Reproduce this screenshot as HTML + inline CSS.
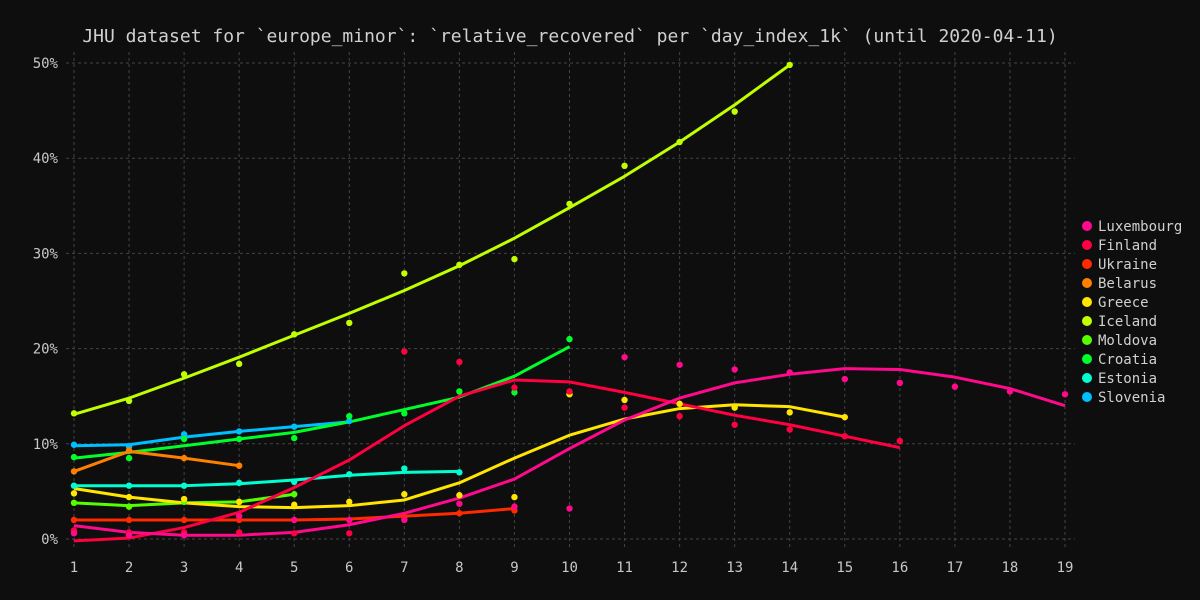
<!DOCTYPE html>
<html><head><meta charset="utf-8"><style>
body{margin:0;background:#0e0e0e;}
svg{display:block;font-family:"DejaVu Sans Mono","Liberation Mono",monospace;}
</style></head><body>
<svg id="chart" width="1200" height="600">
<rect width="1200" height="600" fill="#0e0e0e"/>
<text x="570" y="42" fill="#d0d0d0" font-size="18" text-anchor="middle">JHU dataset for `europe_minor`: `relative_recovered` per `day_index_1k` (until 2020-04-11)</text>
<g id="grid"></g><g id="lines"></g><g id="pts"></g><g id="legend"></g>
</svg>
<script>
const xTicks=[1,2,3,4,5,6,7,8,9,10,11,12,13,14,15,16,17,18,19];
const yTicks=[0,10,20,30,40,50];
const names=["Luxembourg","Finland","Ukraine","Belarus","Greece","Iceland","Moldova","Croatia","Estonia","Slovenia"];
const colors=["#ff0a8c","#ff0040","#ff2a00","#ff8000","#ffe500","#c0ff00","#55ff00","#00ff2a","#00ffd0","#00bfff"];
const luxPts=[0.6,0.4,0.4,2.4,2.0,2.0,2.0,3.7,3.4,3.2,19.1,18.3,17.8,17.5,16.8,16.4,16.0,15.5,15.2];
const luxFit=[1.4,0.7,0.4,0.4,0.7,1.5,2.7,4.3,6.3,9.5,12.5,14.8,16.4,17.3,17.9,17.8,17.0,15.8,14.0];
const finPts=[0.9,0.7,0.7,0.7,0.6,0.6,19.7,18.6,15.9,15.5,13.8,12.9,12.0,11.5,10.8,10.3];
const finFit=[-0.2,0.1,1.2,2.8,5.4,8.3,11.9,15.0,16.7,16.5,15.4,14.2,13.0,12.0,10.8,9.6];
const ukrPts=[2.0,2.0,2.0,2.0,2.0,2.0,2.3,2.7,3.0];
const ukrFit=[2.0,2.0,2.0,2.0,2.0,2.1,2.4,2.7,3.2];
const belPts=[7.1,9.3,8.5,7.7];
const belFit=[7.1,9.2,8.5,7.7];
const grePts=[4.8,4.4,4.2,3.9,3.6,3.9,4.7,4.6,4.4,15.2,14.6,14.2,13.8,13.3,12.8];
const greFit=[5.3,4.4,3.8,3.4,3.3,3.5,4.1,5.9,8.5,10.9,12.6,13.7,14.1,13.9,12.8];
const icePts=[13.2,14.5,17.3,18.4,21.5,22.7,27.9,28.8,29.4,35.2,39.2,41.7,44.9,49.8];
const iceFit=[13.1,14.8,16.9,19.1,21.4,23.7,26.1,28.7,31.6,34.8,38.1,41.7,45.6,49.8];
const molPts=[3.8,3.4,3.9,3.9,4.7];
const molFit=[3.8,3.5,3.8,3.9,4.7];
const croPts=[8.6,8.5,10.5,10.5,10.6,12.9,13.2,15.5,15.4,21.0];
const croFit=[8.5,9.1,9.8,10.5,11.2,12.3,13.6,14.9,17.1,20.2];
const estPts=[5.6,5.6,5.6,5.9,6.0,6.8,7.4,7.0];
const estFit=[5.6,5.6,5.6,5.8,6.2,6.7,7.0,7.1];
const sloPts=[9.9,9.7,11.0,11.3,11.8,12.4];
const sloFit=[9.8,9.9,10.7,11.3,11.8,12.3];
const allPts=[luxPts,finPts,ukrPts,belPts,grePts,icePts,molPts,croPts,estPts,sloPts];
const allFit=[luxFit,finFit,ukrFit,belFit,greFit,iceFit,molFit,croFit,estFit,sloFit];

const NS="http://www.w3.org/2000/svg";
const X=d=>74+(d-1)*(1065-74)/18;
const Y=v=>539-v*9.52;
function mk(tag,attrs,parent){const e=document.createElementNS(NS,tag);for(const k in attrs)e.setAttribute(k,attrs[k]);parent.appendChild(e);return e;}
const grid=document.getElementById('grid');
xTicks.forEach(t=>{
  const l=mk('line',{x1:X(t),x2:X(t),y1:52,y2:548,stroke:'#444','stroke-dasharray':'3,3'},grid);
  
  
  const tx=mk('text',{x:X(t),y:572,fill:'#c8c8c8','font-size':14,'text-anchor':'middle'},grid);
  tx.textContent=t;
  
  
});
yTicks.forEach(t=>{
  const l=mk('line',{x1:66,x2:1075,y1:Y(t),y2:Y(t),stroke:'#444','stroke-dasharray':'3,3'},grid);
  
  
  const tx=mk('text',{x:58,y:Y(t)+5,fill:'#c8c8c8','font-size':14,'text-anchor':'end'},grid);
  tx.textContent=t+'%';
  
  
});
const lines=document.getElementById('lines'),pts=document.getElementById('pts'),leg=document.getElementById('legend');
for(let i=names.length-1;i>=0;i--){
  const fit=allFit[i];
  const p=mk('polyline',{points:fit.map((v,j)=>X(j+1)+','+Y(v)).join(' '),fill:'none',stroke:colors[i],'stroke-width':3,'stroke-linejoin':'round'},lines);
  
  
  allPts[i].forEach((v,j)=>{
    const c=mk('circle',{cx:X(j+1),cy:Y(v),r:3.2,fill:colors[i]},pts);
    
    
  });
}
names.forEach((n,i)=>{
  const y=226+i*19;
  const c=mk('circle',{cx:1087,cy:y,r:5,fill:colors[i]},leg);
  
  
  const t=mk('text',{x:1098,y:y+5,fill:'#d0d0d0','font-size':14},leg);
  t.textContent=n;
  
  
});
</script>
</body></html>
